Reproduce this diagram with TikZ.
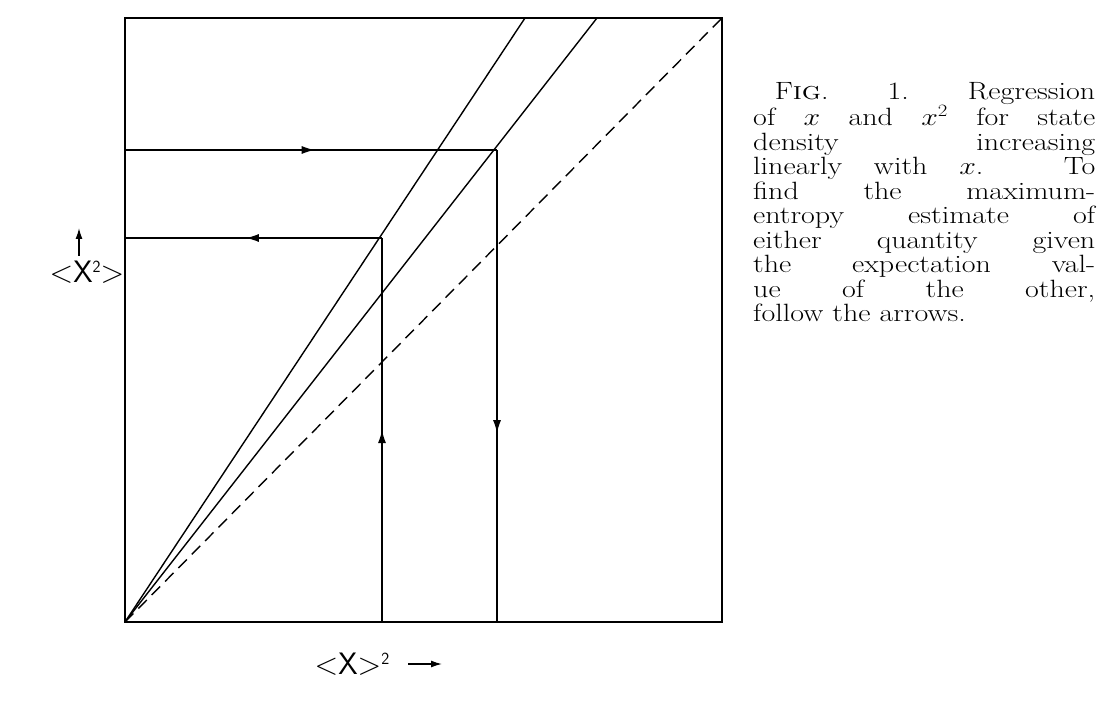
\documentclass[tikz,border=0pt]{standalone}
\usepackage{fontspec}
\usetikzlibrary{decorations.markings,arrows.meta}
\begin{document}
\begin{tikzpicture}[x=1pt,y=-1pt,
  ln/.style={line width=1.4pt},
  lab/.style={font=\fontsize{31}{33}\selectfont\sffamily,inner sep=0},
  mid/.style={postaction={decorate},decoration={markings,mark=at position #1 with {\arrow{Latex[length=13pt,width=8pt]}}}}]
\useasboundingbox (0,0) rectangle (1114,703);
\coordinate (O) at (125,622);
\draw[ln] (125,18) rectangle (722,622);
\draw[ln] (O) -- (525,18);
\draw[ln] (O) -- (597,18);
\draw[ln,dash pattern=on 12pt off 7pt] (O) -- (722,18);
\coordinate (a1) at (125,150); \coordinate (a2) at (497,150); \coordinate (a3) at (497,622);
\draw[ln,mid=0.51] (a1) -- (a2);
\draw[ln,mid=0.6] (a2) -- (a3);
\coordinate (b1) at (382,622); \coordinate (b2) at (382,238); \coordinate (b3) at (125,238);
\draw[ln,mid=0.5] (b1) -- (b2);
\draw[ln,mid=0.53] (b2) -- (b3);
\node[lab] (ly) at (87,272) {<X\raisebox{10pt}{\fontsize{17}{18}\selectfont 2}>};
\coordinate (ya) at (79,256); \coordinate (yb) at (79,228);
\draw[ln,-{Latex[length=11pt,width=7pt]}] (ya) -- (yb);
\node[lab] (lx) at (352,664) {<X>\raisebox{10pt}{\fontsize{17}{18}\selectfont 2}};
\coordinate (xa) at (408,664); \coordinate (xb) at (442,664);
\draw[ln,-{Latex[length=11pt,width=7pt]}] (xa) -- (xb);
\node[anchor=north west,inner sep=0,xscale=1.2,font=\fontsize{25}{24.5}\selectfont,align=left] (cap) at (753,82) {%
\makebox[285pt][s]{\hspace{18pt}F\textsc{ig}. 1. Regression}\\
\makebox[285pt][s]{of $x$ and $x^2$ for state}\\
\makebox[285pt][s]{density \hfill increasing}\\
\makebox[285pt][s]{linearly with $x$. To}\\
\makebox[285pt][s]{find the maximum-}\\
\makebox[285pt][s]{entropy estimate of}\\
\makebox[285pt][s]{either quantity given}\\
\makebox[285pt][s]{the expectation val-}\\
\makebox[285pt][s]{ue \hfill of \hfill the \hfill other,}\\
follow the arrows.};
\end{tikzpicture}
\end{document}
